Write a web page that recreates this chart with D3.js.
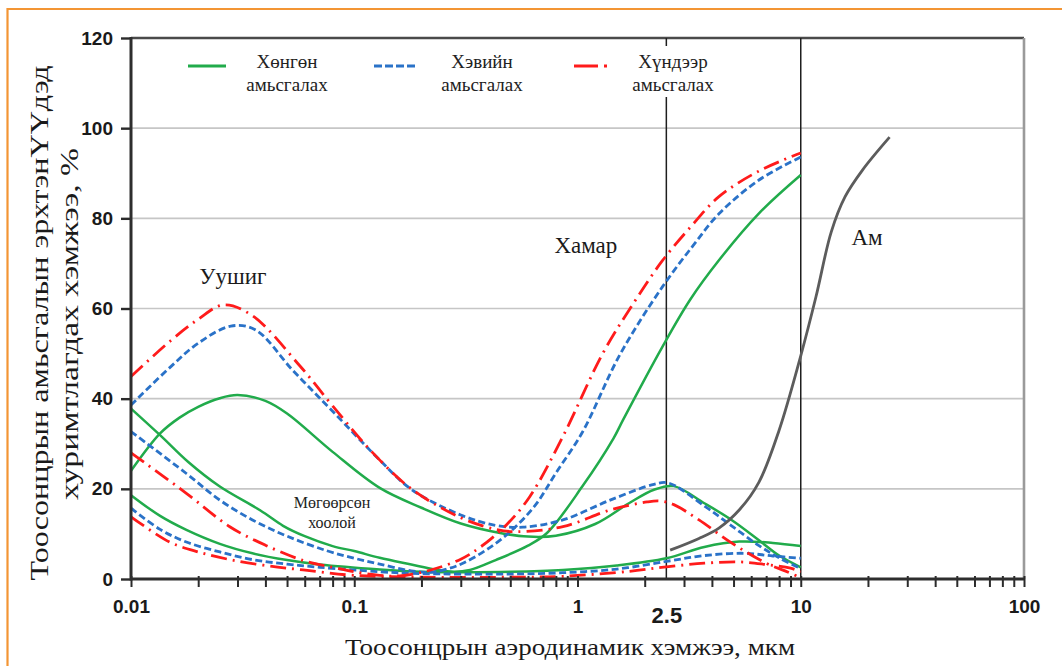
<!DOCTYPE html>
<html>
<head>
<meta charset="utf-8">
<script src="https://cdn.jsdelivr.net/npm/d3@7"></script>
<style>
  html, body { margin: 0; padding: 0; background: #fff; }
  svg { display: block; }
</style>
</head>
<body>
<svg id="chart" width="1062" height="666"></svg>
<script>
// ---------------- DATA ----------------
// particle size (µm), deposition (%)
const alveolarLight  = [[0.01,24],[0.0135,32.3],[0.0165,35.8],[0.02,38.2],[0.025,40.1],[0.03,40.8],[0.04,39.5],[0.05,36.7],[0.08,28.2],[0.13,20.2],[0.2,15.8],[0.3,12.3],[0.45,10.2],[0.6,9.4],[0.8,9.6],[1.2,12.2],[1.7,16.8],[2.2,19.8],[2.7,20.6],[3.7,16.8],[4.9,13.1],[6.5,8.6],[8,5.2],[10,2.6]];
const alveolarNormal = [[0.01,38.6],[0.015,47],[0.02,52.3],[0.028,56.1],[0.036,55.3],[0.053,46.3],[0.08,37.2],[0.13,26.4],[0.18,19.9],[0.3,14.2],[0.43,11.9],[0.57,11.5],[0.86,13.1],[1.4,17.5],[2.2,21],[2.55,21.3],[3.7,16.2],[4.9,11.8],[6.5,7.4],[8,4.7],[10,2.3]];
const alveolarHeavy  = [[0.01,44.9],[0.015,52.8],[0.02,57.6],[0.026,60.8],[0.035,58.4],[0.057,47.3],[0.08,38.4],[0.12,28.2],[0.18,20],[0.3,13.6],[0.43,11],[0.53,10.5],[0.86,11.6],[1.4,15.3],[2.05,17.1],[2.35,17.3],[2.7,16.5],[3.5,13.1],[4.9,8],[7,3.5],[8.5,1.8],[10,0.3]];

const nasalLight  = [[0.01,37.8],[0.0135,31.9],[0.018,26],[0.025,20.5],[0.038,15.2],[0.048,11.8],[0.06,9.5],[0.08,7.3],[0.1,6.2],[0.13,4.7],[0.18,3.2],[0.23,2.1],[0.28,1.6],[0.33,2],[0.43,4.2],[0.6,7.4],[0.73,10.2],[1.05,20.5],[1.45,31.2],[1.6,35.3],[2.4,51.5],[3.2,62],[4.3,70.7],[6.5,81.1],[10,89.6]];
const nasalNormal = [[0.01,32.7],[0.0177,23.4],[0.025,17.5],[0.035,13.1],[0.05,9.5],[0.075,6.3],[0.1,4.6],[0.13,3.3],[0.18,1.8],[0.22,1.5],[0.26,2.2],[0.31,3.6],[0.4,6.8],[0.51,10.9],[0.65,16.5],[0.8,23.5],[1.05,32.5],[1.55,49.8],[2.4,64.8],[3.3,74],[4.3,81],[6.5,88.5],[10,93.6]];
const nasalHeavy  = [[0.01,28],[0.0177,19],[0.0277,11.6],[0.04,7.5],[0.06,4],[0.08,2.6],[0.1,1.6],[0.13,0.8],[0.16,0.7],[0.22,2],[0.3,4.4],[0.37,7.2],[0.48,12],[0.61,18.2],[0.86,31.6],[1.3,50.1],[1.8,61.5],[2.4,70.6],[3.2,78],[4.3,84.8],[6.5,90.5],[10,94.5]];

const tracheaLight  = [[0.01,18.6],[0.0135,14],[0.0177,10.9],[0.025,7.8],[0.035,5.7],[0.05,4.2],[0.07,3.2],[0.13,2.1],[0.2,1.6],[0.3,1.5],[0.5,1.6],[0.86,2],[1.5,3],[2.5,4.6],[3.7,7.1],[5.3,8.3],[7.5,8],[10,7.3]];
const tracheaNormal = [[0.01,15.7],[0.0135,11],[0.0177,8.2],[0.025,6],[0.035,4.3],[0.05,3.3],[0.07,2.6],[0.13,1.6],[0.2,1.2],[0.3,1.1],[0.5,1.1],[0.86,1.4],[1.5,2.2],[2.5,3.9],[3.7,5.2],[5.6,5.7],[7.5,5.1],[10,4.6]];
const tracheaHeavy  = [[0.01,13.8],[0.0149,8.2],[0.02,6],[0.0277,4.3],[0.04,3],[0.059,2],[0.1,0.8],[0.2,0.4],[0.5,0.4],[0.86,0.6],[1.7,1.7],[2.5,2.7],[3.7,3.5],[5.3,3.8],[7,3.2],[9,2.4],[10,1.6]];

const mouth = [[2.6,6.4],[3.5,9],[4.3,11.3],[5.3,15.3],[6.5,21.5],[8,33],[10,49.5],[11.7,62.6],[13.7,77],[15.8,84.8],[18.9,90.7],[25,98]];

const xLabelValues = [0.01, 0.1, 1, 2.5, 10, 100];
const xLabelTexts  = ["0.01", "0.1", "1", "2.5", "10", "100"];
const yTickValues  = [0, 20, 40, 60, 80, 100, 120];
const boundarySizes = [2.5, 10];
const legendNames = ["Хөнгөн", "Хэвийн", "Хүндээр"];
const legendSub = "амьсгалах";
const regionLabels = [
  {text: "Уушиг", x: 0.0286, y: 66.5},
  {text: "Хамар", x: 1.09, y: 73.5},
  {text: "Ам", x: 19.8, y: 75.2}
];
const tracheaLabel = ["Мөгөөрсөн", "хоолой"];
const xTitle = "Тоосонцрын аэродинамик хэмжээ, мкм";
const yTitle = ["Тоосонцрын амьсгалын эрхтэнҮҮдэд", "хуримтлагдах хэмжээ, %"];

// ---------------- STYLE ----------------
const GREEN = "#21ab4b", BLUE = "#2a72c8", RED = "#ff1b1b", GRAY = "#5c5c5c";
const DASH_BLUE = "7,3.5", DASH_RED = "16,6,2,6";
const SERIF = '"Liberation Serif"';
const SANS = '"Liberation Sans"';

const svg = d3.select("#chart");
const x = d3.scaleLog().domain([0.01, 100]).range([131, 1024]);
const y = d3.scaleLinear().domain([0, 120]).range([579, 38]);

svg.append("rect").attr("width", 1062).attr("height", 666).attr("fill", "#fff");

// orange frame (top and left visible)
svg.append("path").attr("d", "M7.5,666 L7.5,9 L1062,9")
  .attr("fill", "none").attr("stroke", "#f39534").attr("stroke-width", 2.2);

// horizontal grid
svg.append("g").selectAll("line").data(yTickValues.filter(v => v > 0 && v < 120)).join("line")
  .attr("x1", x(0.01)).attr("x2", x(100))
  .attr("y1", d => y(d)).attr("y2", d => y(d))
  .attr("stroke", "#c6c6c6").attr("stroke-width", 1.6);

// top and right border
svg.append("line").attr("x1", x(0.01)).attr("x2", x(100)).attr("y1", y(120)).attr("y2", y(120))
  .attr("stroke", "#4a4a4a").attr("stroke-width", 2.4);
svg.append("line").attr("x1", x(100)).attr("x2", x(100)).attr("y1", y(120)).attr("y2", y(0))
  .attr("stroke", "#9a9a9a").attr("stroke-width", 2.6);

// vertical boundaries at 2.5 and 10
svg.append("g").selectAll("line").data(boundarySizes).join("line")
  .attr("x1", d => x(d)).attr("x2", d => x(d))
  .attr("y1", y(120)).attr("y2", y(0))
  .attr("stroke", "#1e1e1e").attr("stroke-width", 1.5);

// curves
const line = d3.line().x(d => x(d[0])).y(d => y(d[1])).curve(d3.curveCatmullRom.alpha(0.5));
const series = [
  {data: alveolarLight, color: GREEN, dash: null, w: 2.5},
  {data: nasalLight, color: GREEN, dash: null, w: 2.5},
  {data: tracheaLight, color: GREEN, dash: null, w: 2.5},
  {data: alveolarNormal, color: BLUE, dash: DASH_BLUE, w: 2.8},
  {data: nasalNormal, color: BLUE, dash: DASH_BLUE, w: 2.8},
  {data: tracheaNormal, color: BLUE, dash: DASH_BLUE, w: 2.8},
  {data: alveolarHeavy, color: RED, dash: DASH_RED, w: 2.8},
  {data: nasalHeavy, color: RED, dash: DASH_RED, w: 2.8},
  {data: tracheaHeavy, color: RED, dash: DASH_RED, w: 2.8},
  {data: mouth, color: GRAY, dash: null, w: 2.8}
];
svg.append("g").selectAll("path").data(series).join("path")
  .attr("d", d => line(d.data))
  .attr("fill", "none")
  .attr("stroke", d => d.color)
  .attr("stroke-width", d => d.w)
  .attr("stroke-dasharray", d => d.dash)
  .attr("stroke-linecap", "butt");

// axes
const xTicks = [];
[0.01, 0.1, 1, 10].forEach(dec => { for (let k = 1; k <= 9; k++) xTicks.push(dec * k); });
xTicks.push(100);

const xAxis = svg.append("g").attr("transform", `translate(0,${y(0) - 3})`)
  .call(d3.axisBottom(x).tickValues(xTicks).tickSize(11).tickFormat(""));
xAxis.select(".domain").remove();
xAxis.selectAll(".tick line").attr("stroke", "#2b2b2b").attr("stroke-width", 2);

const yAxis = svg.append("g").attr("transform", `translate(${x(0.01)},0)`)
  .call(d3.axisLeft(y).tickValues(yTickValues).tickSize(10).tickPadding(8).tickFormat(d3.format("d")));
yAxis.select(".domain").remove();
yAxis.selectAll(".tick line").attr("stroke", "#2b2b2b").attr("stroke-width", 2.4);
yAxis.selectAll(".tick text").style("font-family", SANS).style("font-weight", "bold")
  .style("font-size", "19px").attr("fill", "#1a1a1a");

// axis lines
svg.append("line").attr("x1", x(0.01)).attr("x2", x(0.01)).attr("y1", y(120) - 1).attr("y2", y(0) + 1.5)
  .attr("stroke", "#2e2e2e").attr("stroke-width", 3);
svg.append("line").attr("x1", x(0.01)).attr("x2", x(100)).attr("y1", y(0)).attr("y2", y(0))
  .attr("stroke", "#2e2e2e").attr("stroke-width", 3);

// x tick labels
const xLab = svg.append("g").attr("transform", `translate(0,${y(0)})`)
  .call(d3.axisBottom(x).tickValues(xLabelValues).tickSize(0).tickPadding(21)
    .tickFormat((d, i) => xLabelTexts[i]));
xLab.select(".domain").remove();
xLab.selectAll(".tick text").style("font-family", SANS).style("font-weight", "bold")
  .style("font-size", "19px").attr("fill", "#1a1a1a");
xLab.selectAll(".tick").filter(d => d === 2.5).select("text")
  .style("font-size", "22px").attr("dy", "1.05em");

// legend
const legend = svg.append("g");
const legendItems = [
  {name: legendNames[0], color: GREEN, dash: null, x1: 188, x2: 226, tx: 287},
  {name: legendNames[1], color: BLUE, dash: "8,3", x1: 374, x2: 416, tx: 482},
  {name: legendNames[2], color: RED, dash: "24,6,3,6", x1: 574, x2: 613, tx: 673}
];
legend.append("rect").attr("x", 628).attr("y", 46).attr("width", 90).attr("height", 51).attr("fill", "#fff");
legendItems.forEach(it => {
  legend.append("line").attr("x1", it.x1).attr("x2", it.x2).attr("y1", 66).attr("y2", 66)
    .attr("stroke", it.color).attr("stroke-width", 2.8).attr("stroke-dasharray", it.dash);
  legend.append("text").attr("x", it.tx).attr("y", 68).attr("text-anchor", "middle")
    .style("font-family", SERIF).style("font-size", "19px").attr("fill", "#222").text(it.name);
  legend.append("text").attr("x", it.tx).attr("y", 91).attr("text-anchor", "middle")
    .style("font-family", SERIF).style("font-size", "19px").attr("fill", "#222").text(legendSub);
});

// region labels
svg.append("g").selectAll("text").data(regionLabels).join("text")
  .attr("x", d => x(d.x)).attr("y", d => y(d.y))
  .attr("text-anchor", "middle").attr("dominant-baseline", "middle")
  .style("font-family", SERIF).style("font-size", "23px").attr("fill", "#1a1a1a")
  .text(d => d.text);

svg.append("g").selectAll("text").data(tracheaLabel).join("text")
  .attr("x", 332).attr("y", (d, i) => 508 + i * 20)
  .attr("text-anchor", "middle")
  .style("font-family", SERIF).style("font-size", "16px").attr("fill", "#222")
  .text(d => d);

// axis titles
svg.append("text").attr("x", 570).attr("y", 655).attr("text-anchor", "middle")
  .style("font-family", SERIF).style("font-size", "23px").attr("fill", "#1a1a1a")
  .attr("textLength", 450).attr("lengthAdjust", "spacingAndGlyphs")
  .text(xTitle);

svg.append("text").attr("transform", "translate(48,323) rotate(-90)")
  .attr("text-anchor", "middle")
  .style("font-family", SERIF).style("font-size", "25px").attr("fill", "#1a1a1a")
  .attr("textLength", 515).attr("lengthAdjust", "spacingAndGlyphs")
  .text(yTitle[0]);
svg.append("text").attr("transform", "translate(78,324) rotate(-90)")
  .attr("text-anchor", "middle")
  .style("font-family", SERIF).style("font-size", "25px").attr("fill", "#1a1a1a")
  .attr("textLength", 352).attr("lengthAdjust", "spacingAndGlyphs")
  .text(yTitle[1]);
</script>
</body>
</html>
